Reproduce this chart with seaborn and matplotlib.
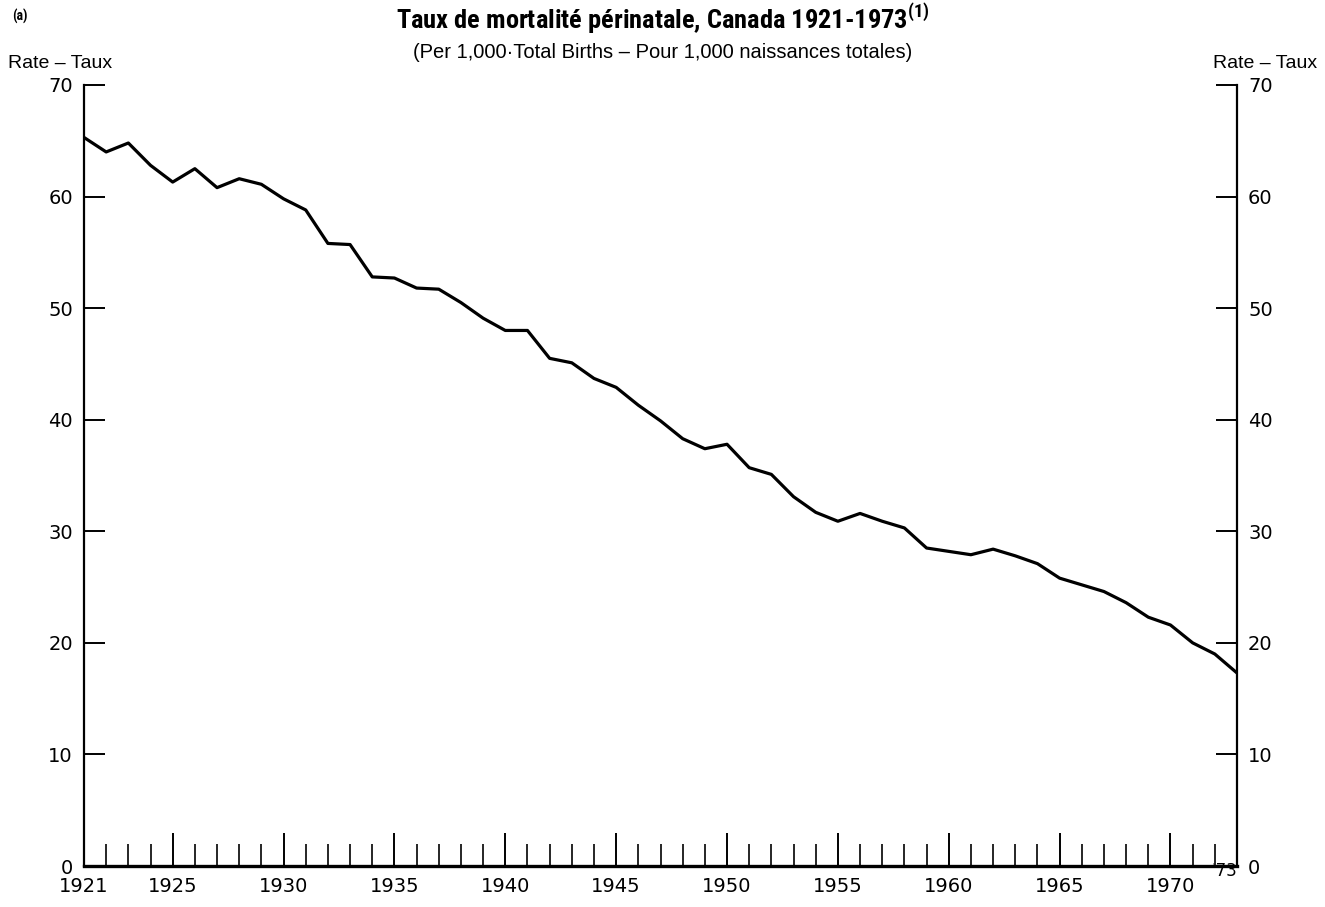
import matplotlib
matplotlib.use("Agg")
import matplotlib.pyplot as plt
import matplotlib.ticker as mticker
import matplotlib.transforms as mtrans
from matplotlib import font_manager
import numpy as np
import pandas as pd
import seaborn as sns

# ---- data ----
years = list(range(1921, 1974))
rates = [65.3, 64.0, 64.8, 62.8, 61.3, 62.5, 60.8, 61.6, 61.1, 59.8,
         58.8, 55.8, 55.7, 52.8, 52.7, 51.8, 51.7, 50.5, 49.1, 48.0,
         48.0, 45.5, 45.1, 43.7, 42.9, 41.3, 39.9, 38.3, 37.4, 37.8,
         35.7, 35.1, 33.1, 31.7, 30.9, 31.6, 30.9, 30.3, 28.5, 28.2,
         27.9, 28.4, 27.8, 27.1, 25.8, 25.2, 24.6, 23.6, 22.3, 21.6,
         20.0, 19.0, 17.3]
x_major = [1921, 1925, 1930, 1935, 1940, 1945, 1950, 1955, 1960, 1965, 1970, 1973]
x_labels = ["1921", "1925", "1930", "1935", "1940", "1945", "1950", "1955",
            "1960", "1965", "1970", "'73"]
y_ticks = [0, 10, 20, 30, 40, 50, 60, 70]

df = pd.DataFrame({"year": years, "rate": rates})

sns.set_theme(style="white")
avail = {f.name for f in font_manager.fontManager.ttflist}
narrow = next((f for f in ["Liberation Sans Narrow", "Roboto Condensed",
                           "Open Sans Condensed", "Liberation Sans"] if f in avail),
              "DejaVu Sans")
plain = "Liberation Sans" if "Liberation Sans" in avail else "DejaVu Sans"
plt.rcParams["font.family"] = ["DejaVu Sans"]
plt.rcParams["text.color"] = "black"
plt.rcParams["axes.labelcolor"] = "black"

fig = plt.figure(figsize=(13.25, 9.07), dpi=100)
ax = fig.add_axes([84 / 1325, 1 - 866 / 907, (1237 - 84) / 1325, (866 - 85) / 907])

sns.lineplot(data=df, x="year", y="rate", ax=ax, color="black", linewidth=2.3)

ax.set_xlim(1921, 1973)
ax.set_ylim(0, 70)
ax.set_xlabel("")
ax.set_ylabel("")

for s in ["left", "right", "bottom"]:
    ax.spines[s].set_visible(True)
    ax.spines[s].set_color("black")
ax.spines["top"].set_visible(False)
ax.spines["left"].set_linewidth(1.6)
ax.spines["right"].set_linewidth(1.6)
ax.spines["bottom"].set_linewidth(2.4)

ax.yaxis.set_major_locator(mticker.FixedLocator(y_ticks))
ax.tick_params(axis="y", which="major", direction="in", length=15, width=1.4,
               left=True, right=True, labelleft=True, labelright=True,
               labelsize=14, pad=8, colors="black")

ax.xaxis.set_major_locator(mticker.FixedLocator(x_major))
ax.xaxis.set_major_formatter(mticker.FixedFormatter(x_labels))
ax.xaxis.set_minor_locator(mticker.FixedLocator(years))
ax.tick_params(axis="x", which="major", direction="in", length=24, width=1.4,
               bottom=True, labelsize=14, pad=8, colors="black")
ax.tick_params(axis="x", which="minor", direction="in", length=16, width=1.4,
               bottom=True)

# raise the '73 label
lbl = ax.get_xticklabels()[-1]
lbl.set_transform(lbl.get_transform() +
                  mtrans.ScaledTranslation(-9 / 72, 11 / 72, fig.dpi_scale_trans))
lbl.set_fontsize(12)

ax.grid(False)

fig.text(0.5, 0.998, "Taux de mortalité périnatale, Canada 1921-1973$^{\\mathregular{(1)}}$",
         ha="center", va="top", fontsize=19, fontweight="bold", family=[narrow, "DejaVu Sans"])
fig.text(0.5, 0.953, "(Per 1,000·Total Births – Pour 1,000 naissances totales)",
         ha="center", va="top", fontsize=14.5, family=[plain, "DejaVu Sans"])
fig.text(0.009, 0.99, "(a)", ha="left", va="top", fontsize=10, fontweight="bold",
         family=[narrow, "DejaVu Sans"])
fig.text(0.006, 0.939, "Rate – Taux", ha="left", va="top", fontsize=14,
         family=[plain, "DejaVu Sans"])
fig.text(0.994, 0.939, "Rate – Taux", ha="right", va="top", fontsize=14,
         family=[plain, "DejaVu Sans"])

fig.savefig("out.png", dpi=100, facecolor="white")
